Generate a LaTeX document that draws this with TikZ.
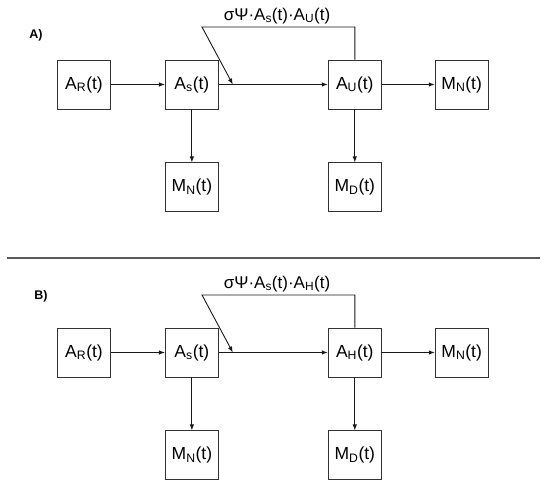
\documentclass[tikz,border=0pt]{standalone}
\usepackage{fontspec}
\setmainfont{Liberation Sans}
\usetikzlibrary{positioning,arrows.meta}

\tikzset{
    box/.style={draw=black!80, line width=0.9pt, minimum width=53pt, minimum height=49pt,
        inner sep=0pt, font=\fontsize{17.5}{19}\selectfont},
    flow/.style={draw=black!90, line width=0.9pt, -{Latex[length=6pt,width=4.5pt]}},
    rate/.style={font=\fontsize{17}{19}\selectfont},
    tag/.style={font=\bfseries\fontsize{12.5}{14}\selectfont}
}

\begin{document}
\begin{tikzpicture}[x=1pt, y=-1pt]
    \useasboundingbox (0,0) rectangle (550,486);

    % panel A
    \node[tag] (tagA) at (36,35) {A)};
    \node[box] (arA) at (84,84.5) {A\textsubscript{R}(t)};
    \node[box, right=54pt of arA] (asA) {A\textsubscript{s}(t)};
    \node[box, right=109pt of asA] (auA) {A\textsubscript{U}(t)};
    \node[box, right=53pt of auA] (mnA) {M\textsubscript{N}(t)};
    \node[box, below=53pt of asA] (msA) {M\textsubscript{N}(t)};
    \node[box, below=53pt of auA] (mdA) {M\textsubscript{D}(t)};
    \node[rate] (rateA) at (277,16) {σΨ·A\textsubscript{s}(t)·A\textsubscript{U}(t)};
    \coordinate (topA) at (202,27);
    \coordinate[right=14pt of asA.east] (hitA);

    \draw[flow] (arA) -- (asA);
    \draw[flow] (asA) -- (auA);
    \draw[flow] (auA) -- (mnA);
    \draw[flow] (asA) -- (msA);
    \draw[flow] (auA) -- (mdA);
    \draw[flow] (auA.north) |- (topA) -- (hitA);

    % divider
    \draw[draw=black!65, line width=1.5pt] (7,258) -- (540,258);

    % panel B
    \node[tag] (tagB) at (41,296) {B)};
    \node[box] (arB) at (84,352.5) {A\textsubscript{R}(t)};
    \node[box, right=54pt of arB] (asB) {A\textsubscript{s}(t)};
    \node[box, right=109pt of asB] (ahB) {A\textsubscript{H}(t)};
    \node[box, right=53pt of ahB] (mnB) {M\textsubscript{N}(t)};
    \node[box, below=53pt of asB] (msB) {M\textsubscript{N}(t)};
    \node[box, below=53pt of ahB] (mdB) {M\textsubscript{D}(t)};
    \node[rate] (rateB) at (277,284) {σΨ·A\textsubscript{s}(t)·A\textsubscript{H}(t)};
    \coordinate (topB) at (202,295);
    \coordinate[right=14pt of asB.east] (hitB);

    \draw[flow] (arB) -- (asB);
    \draw[flow] (asB) -- (ahB);
    \draw[flow] (ahB) -- (mnB);
    \draw[flow] (asB) -- (msB);
    \draw[flow] (ahB) -- (mdB);
    \draw[flow] (ahB.north) |- (topB) -- (hitB);
\end{tikzpicture}
\end{document}
